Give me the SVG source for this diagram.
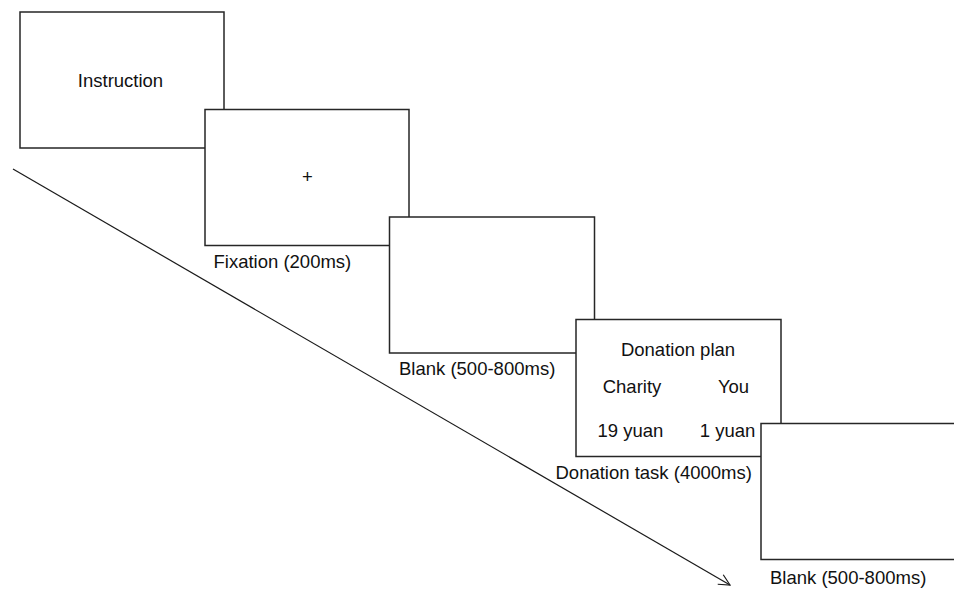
<svg xmlns="http://www.w3.org/2000/svg" width="954" height="589" viewBox="0 0 954 589">
  <style>
    .screen { fill: #ffffff; stroke: #262626; stroke-width: 1.5; }
    .label { font-family: "Liberation Sans", Arial, sans-serif; font-size: 18.5px; fill: #111111; }
    .mid { text-anchor: middle; }
    .timeline { stroke: #1a1a1a; stroke-width: 1.2; fill: none; }
  </style>
  <defs>
    <marker id="openArrow" markerWidth="14" markerHeight="14" refX="12" refY="7" orient="auto" markerUnits="userSpaceOnUse">
      <path d="M1,1.5 L12,7 L1,12.5" fill="none" stroke="#1a1a1a" stroke-width="1.2"/>
    </marker>
  </defs>

  <!-- time axis running under the sequence of screens -->
  <g id="connectors">
    <line class="timeline" x1="13" y1="169" x2="730" y2="585" marker-end="url(#openArrow)"/>
  </g>

  <g id="instruction">
    <rect class="screen" x="20" y="12" width="204" height="136"/>
    <text class="label mid" x="120.5" y="87">Instruction</text>
  </g>

  <g id="fixation">
    <rect class="screen" x="205" y="109.5" width="204" height="136"/>
    <text class="label mid" x="307.5" y="183">+</text>
    <text class="label" x="213.5" y="268">Fixation (200ms)</text>
  </g>

  <g id="blank1">
    <rect class="screen" x="389.5" y="217" width="205" height="136"/>
    <text class="label" x="399" y="375">Blank (500-800ms)</text>
  </g>

  <g id="donation">
    <rect class="screen" x="576" y="319.5" width="205" height="137"/>
    <text class="label mid" x="678" y="355.5">Donation plan</text>
    <text class="label mid" x="632" y="392.5">Charity</text>
    <text class="label mid" x="733.5" y="392.5">You</text>
    <text class="label mid" x="630.5" y="436.5">19 yuan</text>
    <text class="label mid" x="727.5" y="436.5">1 yuan</text>
    <text class="label" x="555.5" y="479">Donation task (4000ms)</text>
  </g>

  <g id="blank2">
    <rect class="screen" x="761" y="423.5" width="205" height="136"/>
    <text class="label" x="770" y="584">Blank (500-800ms)</text>
  </g>
</svg>
